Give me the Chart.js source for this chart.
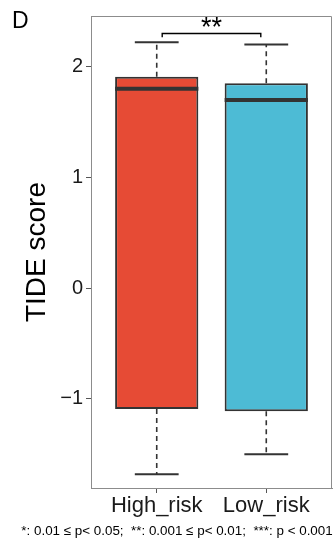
<!DOCTYPE html>
<html>
<head>
<meta charset="utf-8">
<script src="https://cdn.jsdelivr.net/npm/chart.js@4.4.1/dist/chart.umd.min.js"></script>
<style>
    html, body { margin: 0; padding: 0; background: #fff; }
    #wrap { width: 333px; height: 543px; position: relative; }
</style>
</head>
<body>
<div id="wrap"><canvas id="chart"></canvas></div>
<script>
// Box plot values
const categories = ['High_risk', 'Low_risk'];
const q1 = [-1.09, -1.11];
const q3 = [1.91, 1.85];
const medians = [1.80, 1.70];
const whiskerLow = [-1.68, -1.50];
const whiskerHigh = [2.22, 2.20];
const boxColors = ['#E64B35', '#4DBBD5'];
const yTicks = [-1, 0, 1, 2];

// significance bracket between the two groups
const bracketFrom = 1.05;
const bracketTo = 1.95;
const bracketY = 2.30;
const bracketLeg = 2.265;
const bracketLabel = '**';

const footnote = '*: 0.01 \u2264 p< 0.05;  **: 0.001 \u2264 p< 0.01;  ***: p < 0.001';
const FONT = "'Liberation Sans', Arial, sans-serif";

const BOX_HALF = 0.38;
const CAP_HALF = 0.2;

// build segment lists (null points break the line)
const gap = x => ({ x: x, y: null });

const whiskerData = [];
const capData = [];
const medianData = [];
categories.forEach((c, i) => {
    const x = i + 1;
    whiskerData.push({ x: x, y: q3[i] }, { x: x, y: whiskerHigh[i] }, gap(x));
    whiskerData.push({ x: x, y: q1[i] }, { x: x, y: whiskerLow[i] }, gap(x));
    capData.push({ x: x - CAP_HALF, y: whiskerHigh[i] }, { x: x + CAP_HALF, y: whiskerHigh[i] }, gap(x));
    capData.push({ x: x - CAP_HALF, y: whiskerLow[i] }, { x: x + CAP_HALF, y: whiskerLow[i] }, gap(x));
    medianData.push({ x: x - BOX_HALF, y: medians[i] }, { x: x + BOX_HALF, y: medians[i] }, gap(x));
});

const bracketData = [
    { x: bracketFrom, y: bracketLeg },
    { x: bracketFrom, y: bracketY },
    { x: bracketTo, y: bracketY },
    { x: bracketTo, y: bracketLeg }
];

// panel border, star label, panel letter and footnote
const extrasPlugin = {
    id: 'extras',
    afterDraw(chart) {
        const { ctx, chartArea, scales } = chart;
        ctx.save();
        ctx.strokeStyle = '#8c8c8c';
        ctx.lineWidth = 1;
        ctx.beginPath();
        ctx.moveTo(chartArea.left, chartArea.top + 0.5);
        ctx.lineTo(chartArea.right - 0.5, chartArea.top + 0.5);
        ctx.lineTo(chartArea.right - 0.5, chartArea.bottom);
        ctx.stroke();

        ctx.fillStyle = '#000';
        ctx.textAlign = 'center';
        ctx.textBaseline = 'alphabetic';
        ctx.font = '27px ' + FONT;
        const mx = scales.x.getPixelForValue((bracketFrom + bracketTo) / 2);
        ctx.fillText(bracketLabel, mx, scales.y.getPixelForValue(bracketY) + 3);

        ctx.textAlign = 'left';
        ctx.font = '23px ' + FONT;
        ctx.fillText('D', 12, 28);

        ctx.textAlign = 'center';
        ctx.font = '13.4px ' + FONT;
        ctx.fillText(footnote, 177, 535);
        ctx.restore();
    }
};

new Chart(document.getElementById('chart'), {
    type: 'bar',
    data: {
        datasets: [{
            type: 'line',
            data: medianData,
            borderColor: '#333333',
            borderWidth: 4,
            pointRadius: 0,
            spanGaps: false,
            order: 1
        }, {
            type: 'bar',
            data: categories.map((c, i) => ({ x: i + 1, y: [q1[i], q3[i]] })),
            backgroundColor: boxColors,
            borderColor: '#333333',
            borderWidth: 2,
            borderSkipped: false,
            barPercentage: BOX_HALF * 2,
            categoryPercentage: 1,
            order: 2
        }, {
            type: 'line',
            data: whiskerData,
            borderColor: '#333333',
            borderWidth: 1.6,
            borderDash: [5, 4],
            pointRadius: 0,
            spanGaps: false,
            order: 3
        }, {
            type: 'line',
            data: capData,
            borderColor: '#333333',
            borderWidth: 2,
            pointRadius: 0,
            spanGaps: false,
            order: 3
        }, {
            type: 'line',
            data: bracketData,
            borderColor: '#000000',
            borderWidth: 1.4,
            pointRadius: 0,
            order: 3
        }]
    },
    options: {
        responsive: true,
        maintainAspectRatio: false,
        animation: false,
        layout: { padding: { top: 16, right: 1, left: 0, bottom: 0 } },
        plugins: {
            legend: { display: false },
            tooltip: { enabled: false }
        },
        scales: {
            x: {
                type: 'linear',
                min: 0.4,
                max: 2.6,
                offset: false,
                afterBuildTicks: scale => { scale.ticks = categories.map((c, i) => ({ value: i + 1 })); },
                afterFit: scale => { scale.height = 55; },
                grid: { display: true, offset: false, drawOnChartArea: false, drawTicks: true, tickLength: 5, color: '#555555' },
                border: { display: true, color: '#8c8c8c' },
                ticks: {
                    callback: v => categories[Math.round(v) - 1],
                    font: { family: FONT, size: 22 },
                    color: '#1a1a1a',
                    padding: 0,
                    maxRotation: 0
                }
            },
            y: {
                min: -1.804,
                max: 2.458,
                afterBuildTicks: scale => { scale.ticks = yTicks.map(v => ({ value: v })); },
                afterFit: scale => { scale.width = 91; },
                grid: { display: true, drawOnChartArea: false, drawTicks: true, tickLength: 5, color: '#555555' },
                border: { display: true, color: '#8c8c8c' },
                ticks: {
                    callback: v => String(v).replace('-', '\u2212'),
                    font: { family: FONT, size: 20 },
                    color: '#1a1a1a',
                    padding: 3
                },
                title: {
                    display: true,
                    text: 'TIDE score',
                    font: { family: FONT, size: 28 },
                    color: '#000',
                    padding: { top: 20, bottom: 0 }
                }
            }
        }
    },
    plugins: [extrasPlugin]
});
</script>
</body>
</html>
